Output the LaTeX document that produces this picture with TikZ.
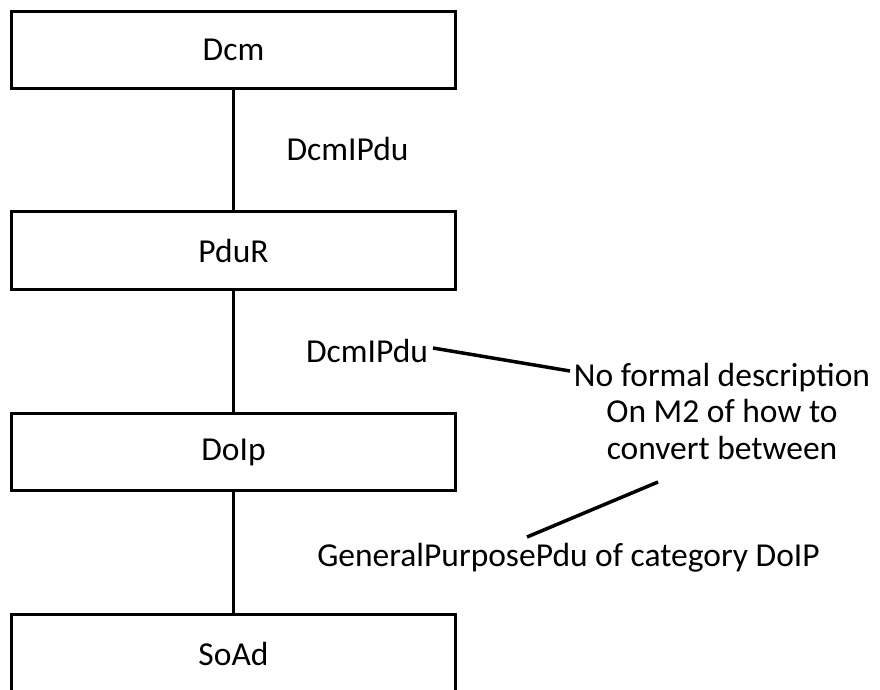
\documentclass[tikz,border=0pt]{standalone}
\usepackage{fontspec}
\setmainfont{Carlito}
\begin{document}
\begin{tikzpicture}[x=1pt,y=-1pt,
  box/.style={draw=black,line width=3pt,minimum width=443.5pt,minimum height=77.5pt,inner sep=0pt,font=\fontsize{33.5}{36.5}\selectfont},
  lbl/.style={anchor=base,inner sep=0pt,font=\fontsize{33.5}{36.5}\selectfont},
  link/.style={line width=3pt},
  note/.style={line width=3.5pt}]
\useasboundingbox (0,0) rectangle (880,690);
\node[box] (dcm)  at (233.5,50.25) {Dcm};
\node[box] (pdur) at (233.5,250.5) {PduR};
\node[box] (doip) at (233.5,452) {DoIp};
\node[box] (soad) at (233.5,653.5) {SoAd};
\draw[link] (dcm) -- (pdur);
\draw[link] (pdur) -- (doip);
\draw[link] (doip) -- (soad);
\node[lbl] (l1) at (347.5,160) {DcmIPdu};
\node[lbl] (l2) at (367,362) {DcmIPdu};
\node[lbl,align=center] (n) at (722,459) {No formal description\\On M2 of how to\\convert between};
\node[lbl] (g) at (568.5,566) {GeneralPurposePdu of category DoIP};
\coordinate (a1) at (433,348);
\coordinate (a2) at (570,371);
\coordinate (b1) at (527,537);
\coordinate (b2) at (658,482);
\draw[note] (a1) -- (a2);
\draw[note] (b1) -- (b2);
\end{tikzpicture}
\end{document}
